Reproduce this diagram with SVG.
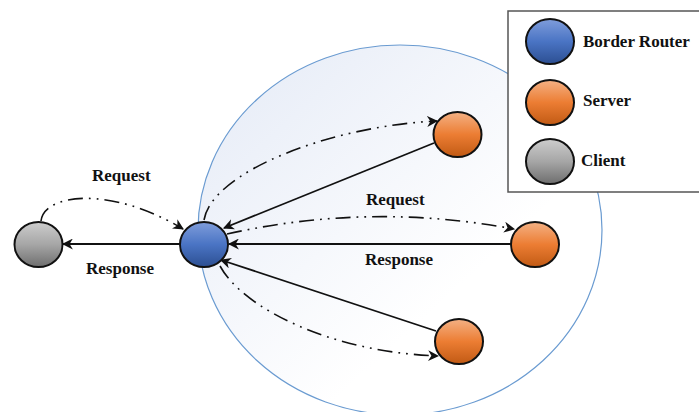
<svg xmlns="http://www.w3.org/2000/svg" width="699" height="412" viewBox="0 0 699 412">
<style>
.lbl{font-family:"Liberation Serif","Times New Roman",serif;font-weight:bold;font-size:17px;fill:#111;}
.node{stroke:#111;stroke-width:2;}
.solid{fill:none;stroke:#111;stroke-width:1.8;}
.dd{fill:none;stroke:#111;stroke-width:1.6;stroke-dasharray:15 6 1.8 6 1.8 6;}
</style>
<defs>
<linearGradient id="gBlue" x1="0" y1="0" x2="0" y2="1"><stop offset="0" stop-color="#7f9ddb"/><stop offset="0.5" stop-color="#4a74c4"/><stop offset="1" stop-color="#2c4f92"/></linearGradient>
<linearGradient id="gOrange" x1="0" y1="0" x2="0" y2="1"><stop offset="0" stop-color="#f4b184"/><stop offset="0.5" stop-color="#ec7d33"/><stop offset="1" stop-color="#c15a14"/></linearGradient>
<linearGradient id="gGray" x1="0" y1="0" x2="0" y2="1"><stop offset="0" stop-color="#cdcdcd"/><stop offset="0.5" stop-color="#a6a6a6"/><stop offset="1" stop-color="#6e6e6e"/></linearGradient>
<linearGradient id="gBig" x1="0" y1="0" x2="1" y2="1"><stop offset="0" stop-color="#e4eaf6"/><stop offset="0.65" stop-color="#ffffff"/><stop offset="1" stop-color="#ffffff"/></linearGradient>
<marker id="arrb" viewBox="0 0 10 10" refX="9" refY="5" markerWidth="11" markerHeight="11" markerUnits="userSpaceOnUse" orient="auto"><path d="M0,0 L10,5 L0,10 L3,5 Z" fill="#111"/></marker>
</defs>
<rect width="699" height="412" fill="#fff"/>
<ellipse id="area" cx="400" cy="230" rx="202" ry="185" fill="url(#gBig)" stroke="#6a9bd1" stroke-width="1.2"/>
<g id="legend">
<rect x="508" y="11" width="200" height="181" fill="#fff" stroke="#555" stroke-width="1.5"/>
<ellipse class="node" cx="550" cy="41.5" rx="24" ry="22.5" fill="url(#gBlue)"/>
<text class="lbl" x="583" y="47">Border Router</text>
<ellipse class="node" cx="550" cy="102.5" rx="24" ry="22.5" fill="url(#gOrange)"/>
<text class="lbl" x="583" y="106">Server</text>
<ellipse class="node" cx="550" cy="161.5" rx="24" ry="22.5" fill="url(#gGray)"/>
<text class="lbl" x="581" y="166">Client</text>
</g>
<g id="connectors">
<line class="solid" x1="180" y1="244" x2="63" y2="244" marker-end="url(#arrb)"/>
<path class="dd" d="M41 221 C44 193, 112 186, 183 229" marker-end="url(#arrb)"/>
<line class="solid" x1="434" y1="143" x2="224" y2="228" marker-end="url(#arrb)"/>
<path class="dd" d="M204 220 C212 172, 330 126, 437 121" marker-end="url(#arrb)"/>
<line class="solid" x1="511" y1="244" x2="229" y2="244" marker-end="url(#arrb)"/>
<path class="dd" d="M227 234 Q370 202, 514 229" marker-end="url(#arrb)"/>
<line class="solid" x1="436" y1="331" x2="221" y2="260" marker-end="url(#arrb)"/>
<path class="dd" d="M220 266 C243 308, 330 352, 438 356" marker-end="url(#arrb)"/>
</g>
<g id="client"><ellipse class="node" cx="38.5" cy="244.5" rx="24" ry="22.5" fill="url(#gGray)"/></g>
<g id="router"><ellipse class="node" cx="204" cy="244.5" rx="24" ry="22.5" fill="url(#gBlue)"/></g>
<g id="server1"><ellipse class="node" cx="457.5" cy="134.5" rx="24" ry="22.5" fill="url(#gOrange)"/></g>
<g id="server2"><ellipse class="node" cx="535" cy="244.5" rx="24" ry="22.5" fill="url(#gOrange)"/></g>
<g id="server3"><ellipse class="node" cx="459" cy="341.5" rx="24" ry="22.5" fill="url(#gOrange)"/></g>
<g id="labels">
<text class="lbl" x="92" y="181">Request</text>
<text class="lbl" x="86" y="274">Response</text>
<text class="lbl" x="366" y="205">Request</text>
<text class="lbl" x="365" y="265">Response</text>
</g>
</svg>
